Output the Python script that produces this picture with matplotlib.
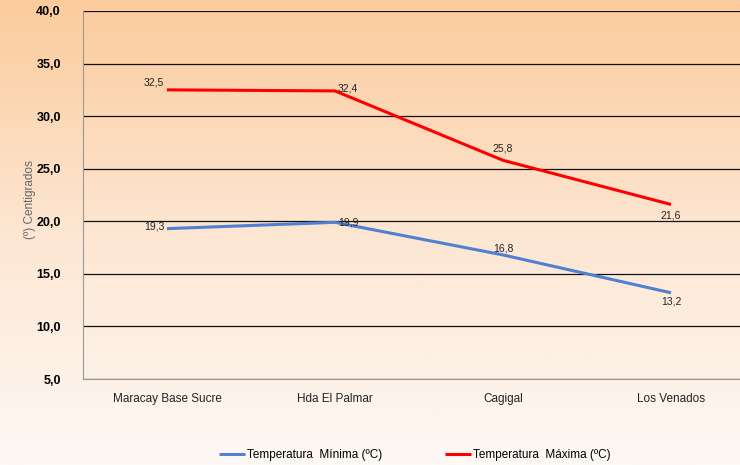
import numpy as np
import matplotlib.pyplot as plt
from matplotlib.colors import LinearSegmentedColormap

plt.rcParams['font.family'] = ['Liberation Sans', 'DejaVu Sans']

# datos
estaciones = ["Maracay Base Sucre", "Hda El Palmar", "Cagigal", "Los Venados"]
temp_min = [19.3, 19.9, 16.8, 13.2]
temp_max = [32.5, 32.4, 25.8, 21.6]
etiq_min = ["19,3", "19,9", "16,8", "13,2"]
etiq_max = ["32,5", "32,4", "25,8", "21,6"]
yticks = [5, 10, 15, 20, 25, 30, 35, 40]

fig = plt.figure(figsize=(7.4, 4.65), dpi=100)

# fondo degradado naranja -> blanco
bg = fig.add_axes([0, 0, 1, 1], zorder=-10)
cmap = LinearSegmentedColormap.from_list("fondo", ["#fdf9f5", "#fde6d2", "#fbcb9c"])
grad = np.linspace(0, 1, 256).reshape(-1, 1)
bg.imshow(grad, aspect="auto", cmap=cmap, origin="lower", extent=[0, 1, 0, 1])
bg.axis("off")

ax = fig.add_axes([83 / 740, 1 - 379 / 465, 672 / 740, 368 / 465])
ax.patch.set_alpha(0)

x = np.arange(len(estaciones))
ax.plot(x, temp_min, color="#4f81d0", lw=2.2, label="Temperatura  Mínima (ºC)", solid_capstyle="butt")
ax.plot(x, temp_max, color="#ff0000", lw=2.2, label="Temperatura  Máxima (ºC)", solid_capstyle="butt")

ax.set_xlim(-0.5, 3.5)
ax.set_ylim(5, 40)
ax.set_yticks(yticks)
ax.set_yticklabels([f"{v:.1f}".replace(".", ",") for v in yticks], fontweight="bold", fontsize=9)
ax.set_xticks(x)
ax.set_xticklabels(estaciones, fontsize=8.5, color="#222222")
ax.tick_params(length=0, pad=10)
ax.tick_params(axis="y", pad=16)
ax.yaxis.grid(True, color="#111111", lw=0.9)
ax.set_axisbelow(True)
for s in ["top", "right"]:
    ax.spines[s].set_visible(False)
ax.spines["left"].set_color("#999999")
ax.spines["bottom"].set_color("#999999")

fig.text(30 / 740, 1 - 200 / 465, "(º) Centigrados", rotation=90, ha="center", va="center",
         fontsize=8.5, color="#666666")

# etiquetas de datos
off_max = [(-2, 2, "right", "bottom"), (2, -2, "left", "bottom"), (0, 5, "center", "bottom"), (0, -4, "center", "top")]
off_min = [(-2, -2, "right", "bottom"), (2, -4, "left", "bottom"), (0, 1, "center", "bottom"), (0, -3, "center", "top")]
for i in range(len(x)):
    dx, dy, ha, va = off_max[i]
    ax.annotate(etiq_max[i], (x[i], temp_max[i]), xytext=(dx, dy), textcoords="offset points",
                ha=ha, va=va, fontsize=7.5, color="#222222")
    dx, dy, ha, va = off_min[i]
    ax.annotate(etiq_min[i], (x[i], temp_min[i]), xytext=(dx, dy), textcoords="offset points",
                ha=ha, va=va, fontsize=7.5, color="#222222")

fig.legend(loc="center", bbox_to_anchor=(415 / 740, 1 - 455 / 465), ncol=2, frameon=False,
           fontsize=8.5, handlelength=2.2, handletextpad=0.2, columnspacing=5.3)

fig.savefig("out.png", dpi=100)
